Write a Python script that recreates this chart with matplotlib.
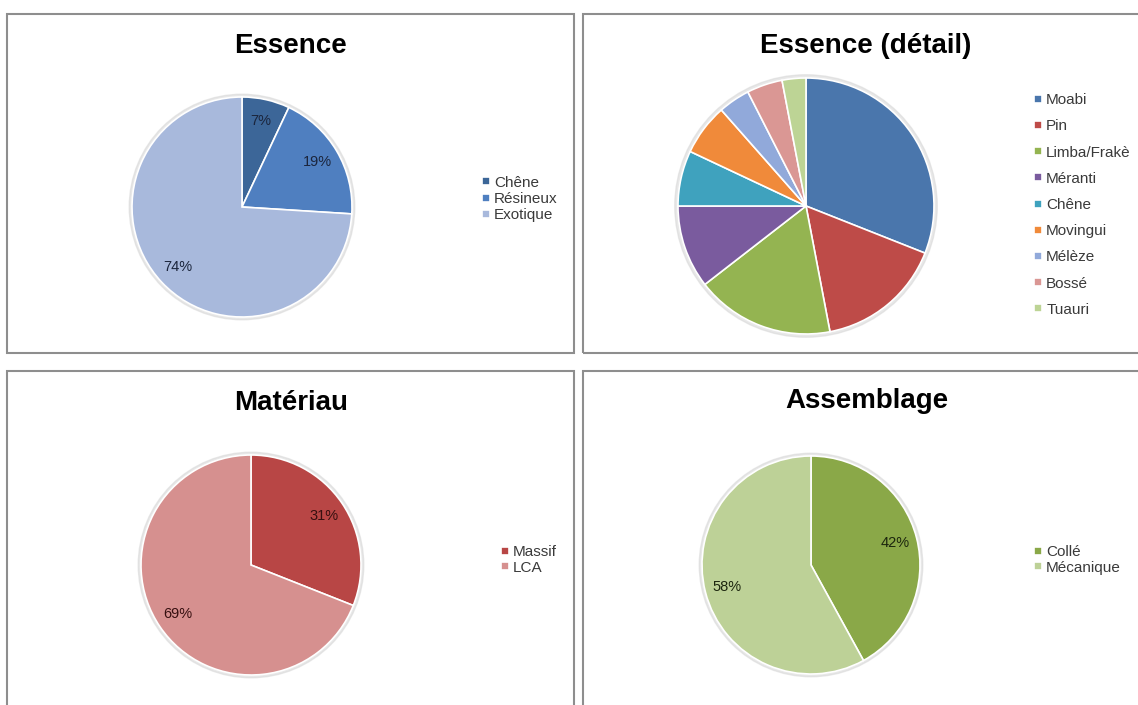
import matplotlib.pyplot as plt
from matplotlib.patches import Rectangle, Circle

plt.rcParams['font.family'] = ['Liberation Sans', 'DejaVu Sans']

# Répartition par essence
essence_labels = ['Chêne', 'Résineux', 'Exotique']
essence_values = [7, 19, 74]
essence_colors = ['#3C6698', '#4F7FC0', '#A8B9DC']

# Détail des essences
detail_labels = ['Moabi', 'Pin', 'Limba/Frakè', 'Méranti', 'Chêne',
                 'Movingui', 'Mélèze', 'Bossé', 'Tuauri']
detail_values = [31, 16, 17.5, 10.5, 7, 6.5, 4, 4.5, 3]
detail_colors = ['#4A76AC', '#BE4B48', '#94B451', '#7A5B9E', '#3FA2BE',
                 '#F08A3A', '#91A9DA', '#DA9794', '#BDD495']

# Matériau
materiau_labels = ['Massif', 'LCA']
materiau_values = [31, 69]
materiau_colors = ['#B84645', '#D6908F']

# Assemblage
assemblage_labels = ['Collé', 'Mécanique']
assemblage_values = [42, 58]
assemblage_colors = ['#8AA848', '#BDD197']

W, H = 1138, 705
fig = plt.figure(figsize=(W / 100, H / 100), dpi=100)
fig.patch.set_facecolor('white')


def fx(x):
    return x / W


def fy(y):
    return 1 - y / H


# cadres des quatre graphiques
for x0, y0, x1, y1 in [(7, 14, 574, 353), (583, 14, 1150, 353),
                       (7, 371, 574, 715), (583, 371, 1150, 715)]:
    fig.patches.append(Rectangle((fx(x0), fy(y1)), fx(x1 - x0), (y1 - y0) / H,
                                 transform=fig.transFigure, fill=False,
                                 edgecolor='#8E8E8E', linewidth=1.5))


def draw_pie(values, labels, colors, title, cx, cy, r, title_x, title_y,
             leg_x, leg_y, leg_spacing, pct_color=None):
    pad = 1.06
    ax = fig.add_axes([fx(cx - r * pad), fy(cy + r * pad),
                       2 * r * pad / W, 2 * r * pad / H])
    ax.add_patch(Circle((0, 0), 1.025, color='#D9D9D9', alpha=0.6, zorder=0))
    kw = {}
    if pct_color is not None:
        kw = dict(autopct=lambda p: f'{p:.0f}%', pctdistance=0.8,
                  textprops=dict(color=pct_color, fontsize=10.5))
    res = ax.pie(values, colors=colors, startangle=90, counterclock=False,
                 radius=1, wedgeprops=dict(edgecolor='white', linewidth=1.2),
                 **kw)
    wedges = res[0]
    ax.set_xlim(-pad, pad)
    ax.set_ylim(-pad, pad)
    ax.set_aspect('equal')
    ax.axis('off')

    fig.text(fx(title_x), fy(title_y), title, ha='center', va='baseline',
             fontsize=20, fontweight='bold', color='black')

    fig.legend(wedges, labels, loc='center left',
               bbox_to_anchor=(fx(leg_x), fy(leg_y)),
               bbox_transform=fig.transFigure, frameon=False,
               fontsize=11, labelcolor='#3A3A3A', borderpad=0,
               borderaxespad=0, handlelength=0.55, handleheight=0.42,
               handletextpad=0.25, labelspacing=leg_spacing)


draw_pie(essence_values, essence_labels, essence_colors, 'Essence',
         242, 207, 110, 290, 53, 482, 199, 0.14, pct_color='#1B253C')
draw_pie(detail_values, detail_labels, detail_colors, 'Essence (détail)',
         806, 206, 128, 866, 53, 1034, 205, 0.8)
draw_pie(materiau_values, materiau_labels, materiau_colors, 'Matériau',
         251, 565, 110, 291, 410, 501, 560, 0.1, pct_color='#361010')
draw_pie(assemblage_values, assemblage_labels, assemblage_colors, 'Assemblage',
         811, 565, 109, 867, 408, 1034, 560, 0.1, pct_color='#1C260E')

fig.savefig('out.png', dpi=100, facecolor='white')
